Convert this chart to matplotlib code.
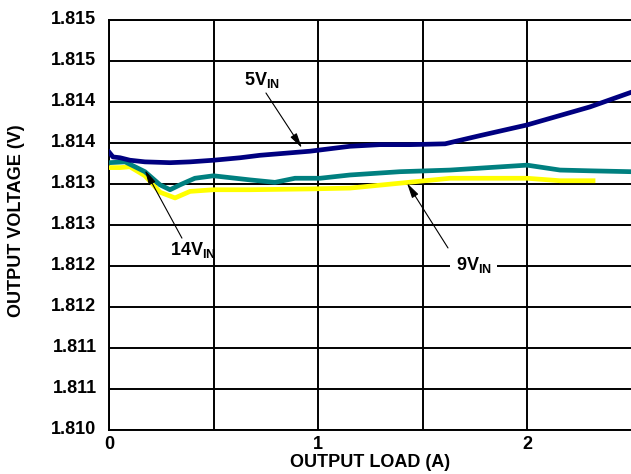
import matplotlib
matplotlib.use("Agg")
import matplotlib.pyplot as plt
from matplotlib.transforms import ScaledTranslation

plt.rcParams['font.family'] = ['Liberation Sans', 'DejaVu Sans']
plt.rcParams['font.weight'] = 'bold'
plt.rcParams['mathtext.fontset'] = 'custom'
plt.rcParams['mathtext.rm'] = 'Liberation Sans:bold'
plt.rcParams['mathtext.bf'] = 'Liberation Sans:bold'

# 5V input
load_5v = [0.0, 0.019, 0.053, 0.10, 0.172, 0.292, 0.388, 0.50, 0.627, 0.722,
           0.866, 0.962, 1.153, 1.297, 1.44, 1.608, 1.775, 2.0, 2.301, 2.5]
vout_5v = [1.81339, 1.81333, 1.81332, 1.81329, 1.81327, 1.81326, 1.81327, 1.81329,
           1.81332, 1.81335, 1.81338, 1.81340, 1.81346, 1.81348, 1.81348, 1.81349,
           1.81359, 1.81372, 1.81394, 1.81412]

# 14V input
load_14v = [0.0, 0.077, 0.172, 0.244, 0.292, 0.34, 0.411, 0.50, 0.675, 0.794,
            0.89, 1.01, 1.153, 1.392, 1.632, 2.0, 2.158, 2.316, 2.5]
vout_14v = [1.81326, 1.81327, 1.81315, 1.81299, 1.81293, 1.81299, 1.81307, 1.81310,
            1.81305, 1.81302, 1.81307, 1.81307, 1.81311, 1.81315, 1.81317, 1.81323,
            1.81317, 1.81316, 1.81315]

# 9V input
load_9v = [0.0, 0.053, 0.10, 0.172, 0.244, 0.316, 0.388, 0.50, 0.675, 0.962,
           1.153, 1.392, 1.632, 2.0, 2.158, 2.316]
vout_9v = [1.81320, 1.81320, 1.81321, 1.81310, 1.81290, 1.81283, 1.81291, 1.81293,
           1.81293, 1.81294, 1.81295, 1.81301, 1.81307, 1.81307, 1.81304, 1.81304]

y_ticks = [1.8100, 1.8105, 1.8110, 1.8115, 1.8120, 1.8125, 1.8130, 1.8135, 1.8140, 1.8145, 1.8150]
y_tick_labels = ['1.810', '1.811', '1.811', '1.812', '1.812', '1.813', '1.813',
                 '1.814', '1.814', '1.815', '1.815']
x_ticks = [0, 0.5, 1, 1.5, 2, 2.5]
x_tick_labels = ['0', '', '1', '', '2', '']

fig = plt.figure(figsize=(6.31, 4.74), dpi=100)
ax = fig.add_axes([109 / 631, 44 / 474, 1.0008 - 109 / 631, 410 / 474])

ax.plot(load_9v, vout_9v, color='#ffff00', lw=3.4, zorder=3)
ax.plot(load_14v, vout_14v, color='#008080', lw=3.4, zorder=4)
ax.plot(load_5v, vout_5v, color='#000080', lw=3.4, zorder=5)

ax.set_xlim(0, 2.5)
ax.set_ylim(1.810, 1.815)
ax.set_xticks(x_ticks)
ax.set_xticklabels(x_tick_labels)
ax.set_yticks(y_ticks)
ax.set_yticklabels(y_tick_labels)
ax.tick_params(length=0, labelsize=13)
ax.tick_params(axis='y', pad=9)
ax.tick_params(axis='x', pad=4)
ax.grid(True, color='black', lw=1.4)
for s in ax.spines.values():
    s.set_linewidth(1.4)

# y tick labels sit a little above their grid lines
shift = ScaledTranslation(0, 2.5 / 100, fig.dpi_scale_trans)
for lbl in ax.get_yticklabels():
    lbl.set_transform(lbl.get_transform() + shift)

ax.set_xlabel('OUTPUT LOAD (A)', fontsize=13, fontweight='bold', labelpad=1)
ax.set_ylabel('OUTPUT VOLTAGE (V)', fontsize=13, fontweight='bold')
ax.yaxis.set_label_coords(-0.161, 0.51)

arrow = dict(arrowstyle='-|>,head_length=0.9,head_width=0.22', color='black', lw=0.8,
             shrinkA=0, shrinkB=0)

ax.annotate('', xy=(0.923, 1.81344), xytext=(0.751, 1.81411), arrowprops=arrow, zorder=7)
ax.text(0.730, 1.81427, r'5V$_{\mathrm{IN}}$', ha='center', va='center', fontsize=13)

ax.annotate('', xy=(0.172, 1.81317), xytext=(0.349, 1.81234), arrowprops=arrow, zorder=7)
ax.text(0.400, 1.81219, r'14V$_{\mathrm{IN}}$', ha='center', va='center', fontsize=13)

ax.annotate('', xy=(1.426, 1.81301), xytext=(1.622, 1.81222), arrowprops=arrow, zorder=7)
ax.text(1.744, 1.81201, r'9V$_{\mathrm{IN}}$', ha='center', va='center', fontsize=13,
        bbox=dict(facecolor='white', edgecolor='none', pad=4), zorder=6)

fig.savefig('out.png', dpi=100)
